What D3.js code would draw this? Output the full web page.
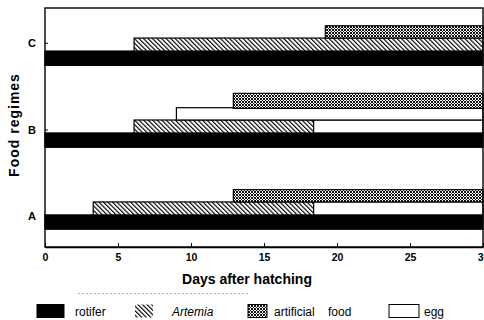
<!DOCTYPE html>
<html>
<head>
<meta charset="utf-8">
<script src="https://cdn.jsdelivr.net/npm/d3@7"></script>
<style>
  html, body { margin: 0; padding: 0; background: #fff; }
  svg { display: block; font-family: "Liberation Sans", Arial, Helvetica, sans-serif; }
</style>
</head>
<body>
<svg id="chart" width="484" height="320"></svg>
<script>
// Feeding regimes and the foods offered
const regimes = ["A", "B", "C"];
const foods = ["rotifer", "Artemia", "artificial food", "egg"];
const dayTicks = [0, 5, 10, 15, 20, 25, 30];

// One entry per feeding period: regime, lane within the regime (0 = lowest), food, first and last day
const barRegime = ["A", "A", "A", "A", "B", "B", "B", "B", "B", "C", "C", "C"];
const barLane   = [0, 1, 1, 2, 0, 1, 1, 2, 3, 0, 1, 2];
const barFood   = ["rotifer", "Artemia", "egg", "artificial food",
                   "rotifer", "Artemia", "egg", "egg", "artificial food",
                   "rotifer", "Artemia", "artificial food"];
const barStart  = [0, 3.3, 18.4, 12.9, 0, 6.1, 18.4, 9.0, 12.9, 0, 6.1, 19.2];
const barEnd    = [30, 18.4, 30, 30, 30, 18.4, 30, 30, 30, 30, 30, 30];

const bars = barRegime.map((r, i) => ({
  regime: r, lane: barLane[i], food: barFood[i], start: barStart[i], end: barEnd[i]
}));

const svg = d3.select("#chart");
const plotLeft = 45, plotRight = 483, plotTop = 8, plotBottom = 247;

const x = d3.scaleLinear().domain([0, 30]).range([plotLeft, plotRight]);
// vertical position in lane units
const y = d3.scaleLinear().domain([0, 17.5]).range([plotBottom, plotTop]);
const regimeBase = d3.scaleOrdinal().domain(regimes).range([1.3, 7.3, 13.3]);
const laneLo = [0, 1.05, 2.0, 2.85];
const laneHi = [1.05, 2.0, 2.9, 3.95];

// fill patterns
const defs = svg.append("defs");
const hatch = defs.append("pattern").attr("id", "hatch")
  .attr("patternUnits", "userSpaceOnUse").attr("width", 3.2).attr("height", 3.2)
  .attr("patternTransform", "rotate(-45)");
hatch.append("rect").attr("width", 3.2).attr("height", 3.2).attr("fill", "#fff");
hatch.append("line").attr("x1", 0).attr("y1", 0).attr("x2", 0).attr("y2", 3.2)
  .attr("stroke", "#000").attr("stroke-width", 2.3);

const cross = defs.append("pattern").attr("id", "cross")
  .attr("patternUnits", "userSpaceOnUse").attr("width", 3).attr("height", 3);
cross.append("rect").attr("width", 3).attr("height", 3).attr("fill", "#fff");
cross.append("path").attr("d", "M0,0L3,3M3,0L0,3")
  .attr("stroke", "#111").attr("stroke-width", 1);

const fillOf = d3.scaleOrdinal().domain(foods)
  .range(["#000", "url(#hatch)", "url(#cross)", "#fff"]);

// bars
svg.append("g").selectAll("rect").data(bars).join("rect")
  .attr("x", d => x(d.start))
  .attr("width", d => x(d.end) - x(d.start))
  .attr("y", d => y(regimeBase(d.regime) + laneHi[d.lane]))
  .attr("height", d => y(regimeBase(d.regime) + laneLo[d.lane]) - y(regimeBase(d.regime) + laneHi[d.lane]))
  .attr("fill", d => fillOf(d.food))
  .attr("stroke", "#000")
  .attr("stroke-width", 1.2);

// frame
svg.append("rect").attr("x", plotLeft).attr("y", plotTop)
  .attr("width", plotRight - plotLeft).attr("height", plotBottom - plotTop)
  .attr("fill", "none").attr("stroke", "#000").attr("stroke-width", 1.4);

// x axis, ticks pointing inward
const xAxis = svg.append("g").attr("transform", `translate(0,${plotBottom})`)
  .call(d3.axisBottom(x).tickValues(dayTicks).tickSizeInner(-4).tickSizeOuter(0).tickPadding(7));
xAxis.select(".domain").attr("stroke-width", 1.4);
xAxis.selectAll("text").attr("font-size", 10.5).attr("font-weight", "bold").attr("fill", "#000")
  .attr("font-family", "Liberation Sans, Arial, sans-serif");

// y axis with regime labels
const labelOffset = { A: 1.0, B: 1.3, C: 1.65 };
const yAxis = svg.append("g").attr("transform", `translate(${plotLeft},0)`)
  .call(d3.axisLeft(d3.scaleOrdinal().domain(regimes).range(regimes.map(r => y(regimeBase(r) + labelOffset[r]))))
    .tickSizeInner(-3).tickSizeOuter(0).tickPadding(9));
yAxis.select(".domain").remove();
yAxis.selectAll("text").attr("font-size", 11).attr("font-weight", "bold").attr("fill", "#000")
  .attr("font-family", "Liberation Sans, Arial, sans-serif");

// axis titles
svg.append("text").attr("x", 247).attr("y", 284)
  .attr("text-anchor", "middle").attr("font-size", 14).attr("font-weight", "bold")
  .text("Days after hatching");
svg.append("text").attr("transform", "translate(19,125) rotate(-90)")
  .attr("text-anchor", "middle").attr("font-size", 14).attr("font-weight", "bold")
  .attr("letter-spacing", 1)
  .text("Food regimes");

// faint separator rule above the legend
svg.append("line").attr("x1", 78).attr("x2", 250).attr("y1", 293.5).attr("y2", 293.5)
  .attr("stroke", "#999").attr("stroke-width", 0.8).attr("stroke-dasharray", "2,2");

// legend
const legendItems = [
  { food: "rotifer", sx: 37, sw: 27, tx: 75, label: "rotifer", italic: false, outline: false },
  { food: "Artemia", sx: 135, sw: 18, tx: 172, label: "Artemia", italic: true, outline: false },
  { food: "artificial food", sx: 248, sw: 19, tx: 274, label: "artificial\u00a0\u00a0\u00a0\u00a0food", italic: false, outline: true },
  { food: "egg", sx: 389, sw: 30, tx: 424, label: "egg", italic: false, outline: true }
];
const lg = svg.append("g").selectAll("g").data(legendItems).join("g");
lg.append("rect")
  .attr("x", d => d.sx).attr("y", 304.5).attr("width", d => d.sw).attr("height", 13)
  .attr("fill", d => fillOf(d.food))
  .attr("stroke", d => d.outline || d.food === "rotifer" ? "#000" : "none")
  .attr("stroke-width", 1);
lg.append("text")
  .attr("x", d => d.tx).attr("y", 315.5)
  .attr("font-size", 12).attr("font-style", d => d.italic ? "italic" : "normal")
  .text(d => d.label);
</script>
</body>
</html>
